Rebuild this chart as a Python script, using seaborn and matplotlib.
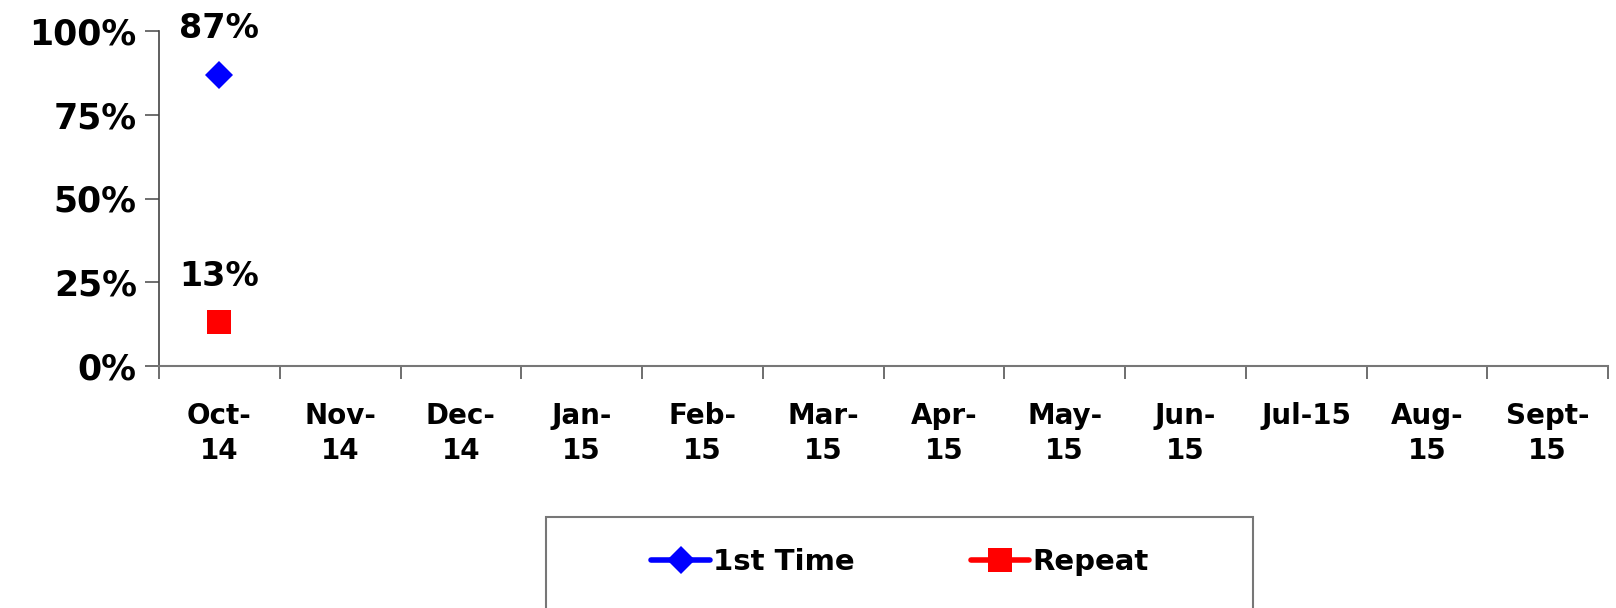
import numpy as np
import pandas as pd
import seaborn as sns
import matplotlib.pyplot as plt
from matplotlib.patches import Rectangle

months = ["Oct-\n14", "Nov-\n14", "Dec-\n14", "Jan-\n15", "Feb-\n15", "Mar-\n15",
          "Apr-\n15", "May-\n15", "Jun-\n15", "Jul-15", "Aug-\n15", "Sept-\n15"]
first_time = [87] + [np.nan] * 11
repeat = [13] + [np.nan] * 11

df = pd.DataFrame({"pos": range(len(months)), "1st Time": first_time, "Repeat": repeat})
long = df.melt(id_vars="pos", var_name="series", value_name="pct").dropna()

sns.set_style("white")
plt.rcParams["font.family"] = ["DejaVu Sans"]
plt.rcParams["font.weight"] = "bold"
plt.rcParams["text.color"] = "black"

fig = plt.figure(figsize=(16.16, 6.08), dpi=100)
ax = fig.add_axes([159 / 1616, 1 - 366 / 608, (1608 - 159) / 1616, (366 - 31) / 608])

palette = {"1st Time": "#0000FF", "Repeat": "#FF0000"}
markers = {"1st Time": "D", "Repeat": "s"}
sns.lineplot(data=long, x="pos", y="pct", hue="series", style="series",
             palette=palette, markers=markers, dashes=False, linewidth=4,
             markersize=17, markeredgewidth=0, ax=ax, legend=True)

# diamond looks bigger than the square at the same size
for line in ax.lines:
    if line.get_marker() == "D":
        line.set_markersize(14)

for _, row in long.iterrows():
    ax.annotate(f"{row['pct']:.0f}%", (row["pos"], row["pct"]), xytext=(0, 21),
                textcoords="offset points", ha="center", va="bottom",
                fontsize=24, fontweight="bold", color="black")

ax.set_xlim(-0.5, len(months) - 0.5)
ax.set_ylim(0, 100)
ax.set_yticks([0, 25, 50, 75, 100])
ax.set_yticklabels(["0%", "25%", "50%", "75%", "100%"], fontsize=25, fontweight="bold")
ax.set_xticks(range(len(months)))
ax.set_xticklabels(months, fontsize=20, fontweight="bold", va="top", linespacing=1.3)
ax.set_xticks(np.arange(-0.5, len(months)), minor=True)
ax.tick_params(axis="x", which="major", length=0, pad=26, labelcolor="black")
ax.tick_params(axis="x", which="minor", bottom=True, length=9, width=1.2,
               color="#555555", direction="out")
ax.tick_params(axis="y", left=True, length=10, width=1.2, color="#555555",
               direction="out", pad=6, labelcolor="black")
ax.set_xlabel("")
ax.set_ylabel("")

for s in ["top", "right"]:
    ax.spines[s].set_visible(False)
ax.spines["left"].set_color("#444444")
ax.spines["bottom"].set_color("#777777")
ax.spines["left"].set_linewidth(1.2)
ax.spines["bottom"].set_linewidth(1.5)

handles, labels = ax.get_legend_handles_labels()
ax.get_legend().remove()
box = Rectangle((546 / 1616, -0.1), (1253 - 546) / 1616, 0.1 + (608 - 517) / 608,
                transform=fig.transFigure, fill=False, edgecolor="#777777", linewidth=1.5)
fig.patches.append(box)
leg = fig.legend(handles, labels, loc="center", bbox_to_anchor=(900 / 1616, 1 - 562 / 608),
                 ncol=2, frameon=False, prop={"weight": "bold", "size": 21},
                 handlelength=2.0, handletextpad=0.1, columnspacing=4.0)
for t in leg.get_texts():
    t.set_color("black")

fig.savefig("out.png", dpi=100)
